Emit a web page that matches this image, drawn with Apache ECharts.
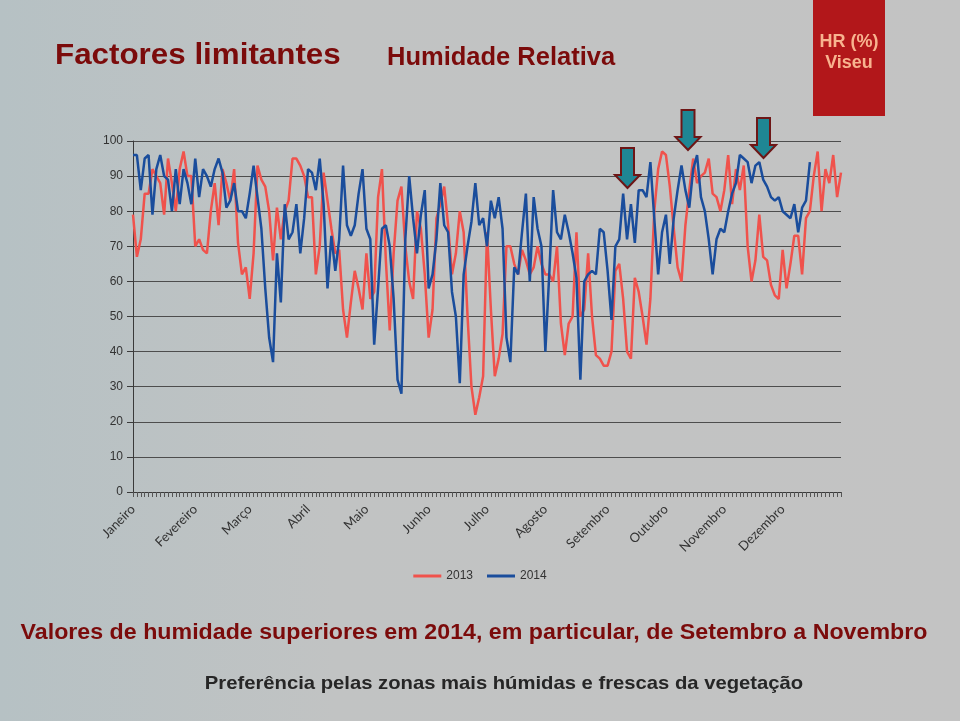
<!DOCTYPE html>
<html>
<head>
<meta charset="utf-8">
<script src="https://cdn.jsdelivr.net/npm/echarts@6/dist/echarts.min.js"></script>
<style>
html,body{margin:0;padding:0;width:960px;height:721px;overflow:hidden;}
#c{width:960px;height:721px;}
</style>
</head>
<body>
<div id="c"></div>
<script>
// Month names (tick labels) and their lengths
const months = ['Janeiro','Fevereiro','Março','Abril','Maio','Junho','Julho','Agosto','Setembro','Outubro','Novembro','Dezembro'];
const monthLengths = [31,28,31,30,31,30,31,31,30,31,30,31];
const yTicks = [0,10,20,30,40,50,60,70,80,90,100];
const seriesNames = ['2013','2014'];

// Relative humidity (%) read every second day, Viseu
const hr2013 = [
 79, 67, 72, 85, 85, 92, 90, 88, 79, 95,
 88, 80, 92, 97, 90, 90, 70, 72, 69, 68,
 80, 88, 76, 92, 88, 83, 92, 71, 62, 64,
 55, 68, 93, 89, 87, 80, 66, 81, 72, 80,
 83, 95, 95, 93, 90, 84, 84, 62, 70, 91,
 83, 75, 68, 69, 52, 44, 54, 63, 58, 52,
 68, 55, 57, 84, 92, 66, 46, 68, 83, 87,
 70, 60, 55, 80, 75, 62, 44, 52, 78, 82,
 87, 76, 62, 68, 80, 74, 50, 30, 22, 27,
 33, 74, 52, 33, 38, 45, 70, 70, 65, 62,
 69, 66, 62, 64, 70, 65, 62, 62, 60, 70,
 48, 39, 48, 50, 74, 50, 52, 68, 50, 39,
 38, 36, 36, 40, 63, 65, 55, 40, 38, 61,
 57, 50, 42, 55, 80, 92, 97, 96, 87, 75,
 64, 60, 76, 86, 95, 88, 90, 91, 95, 85,
 84, 80, 86, 96, 82, 92, 86, 93, 70, 60,
 66, 79, 67, 66, 59, 56, 55, 69, 58, 65,
 73, 73, 62, 78, 80, 90, 97, 80, 92, 88,
 96, 84, 91
];
const hr2014 = [
 96, 96, 86, 95, 96, 79, 92, 96, 90, 89,
 80, 92, 82, 92, 88, 82, 95, 84, 92, 90,
 87, 92, 95, 91, 81, 83, 88, 80, 80, 78,
 85, 93, 84, 75, 58, 44, 37, 68, 54, 82,
 72, 74, 82, 68, 78, 92, 91, 86, 95, 82,
 58, 73, 63, 72, 93, 76, 73, 76, 85, 92,
 75, 72, 42, 58, 75, 76, 70, 55, 32, 28,
 72, 90, 78, 68, 79, 86, 58, 62, 72, 88,
 76, 74, 57, 50, 31, 62, 70, 77, 88, 76,
 78, 70, 83, 78, 84, 75, 44, 37, 64, 62,
 74, 85, 60, 84, 75, 70, 40, 62, 86, 74,
 72, 79, 74, 68, 61, 32, 60, 62, 63, 62,
 75, 74, 63, 49, 70, 72, 85, 72, 82, 71,
 86, 86, 84, 94, 78, 62, 74, 79, 65, 78,
 86, 93, 86, 81, 92, 96, 84, 80, 72, 62,
 72, 75, 74, 80, 85, 88, 96, 95, 94, 88,
 93, 94, 89, 87, 84, 83, 84, 80, 79, 78,
 82, 74, 81, 83, 94, null, null, null, null, null,
 null, null, null
];

// categories: every second day of the year, "day/month"
const categories = [];
for (let d = 0; d < 365; d += 2) {
  let m = 0, rest = d;
  while (rest >= monthLengths[m]) { rest -= monthLengths[m]; m++; }
  categories.push((rest + 1) + '/' + (m + 1));
}

const chart = echarts.init(document.getElementById('c'), null, {renderer: 'canvas'});

function arrow(cx, top) {
  const sw = 6.5, hw = 12.5, sh = 27, hh = 13;
  return {
    type: 'polygon',
    shape: {points: [[cx - sw, top], [cx + sw, top], [cx + sw, top + sh], [cx + hw, top + sh],
                     [cx, top + sh + hh], [cx - hw, top + sh], [cx - sw, top + sh]]},
    style: {fill: '#1f8694', stroke: '#6e1616', lineWidth: 2},
    z: 100
  };
}

const option = {
  backgroundColor: {
    type: 'linear', x: 0, y: 0, x2: 1, y2: 0,
    colorStops: [{offset: 0, color: '#b6c1c4'}, {offset: 0.35, color: '#c1c3c3'}, {offset: 1, color: '#c3c3c3'}]
  },
  animation: false,
  grid: {left: 133, right: 119, top: 141, bottom: 229, containLabel: false},
  legend: {
    data: seriesNames,
    top: 565, left: 'center',
    itemWidth: 28, itemHeight: 3, icon: 'rect', itemGap: 14,
    textStyle: {color: '#333', fontSize: 12, fontFamily: 'Liberation Sans'}
  },
  xAxis: {
    type: 'category',
    data: categories,
    boundaryGap: false,
    axisLine: {lineStyle: {color: '#3a3a3a', width: 1}},
    axisTick: {show: true, interval: 0, length: 5, lineStyle: {color: '#555'}},
    axisLabel: {
      interval: function (idx, val) { return parseInt(val.split('/')[0], 10) <= 2; },
      formatter: function (val) { return months[parseInt(val.split('/')[1], 10) - 1]; },
      rotate: 45, margin: 15, color: '#333', fontSize: 13, fontFamily: 'Lato'
    },
    splitLine: {show: false}
  },
  yAxis: {
    type: 'value', min: yTicks[0], max: yTicks[yTicks.length - 1], interval: 10,
    axisLine: {show: true, lineStyle: {color: '#3a3a3a'}},
    axisTick: {show: true, length: 6, lineStyle: {color: '#3a3a3a'}},
    axisLabel: {color: '#333', fontSize: 12, fontFamily: 'Liberation Sans', margin: 10},
    splitLine: {lineStyle: {color: '#4d4d4d', width: 1}}
  },
  series: [
    {name: seriesNames[0], type: 'line', data: hr2013, showSymbol: false, symbol: 'none',
     lineStyle: {color: '#f0524c', width: 2.5}, itemStyle: {color: '#f0524c'}},
    {name: seriesNames[1], type: 'line', data: hr2014, showSymbol: false, symbol: 'none',
     lineStyle: {color: '#1a4d9c', width: 2.5}, itemStyle: {color: '#1a4d9c'}}
  ],
  graphic: [
    {type: 'text', x: 55, y: 56, scaleX: 1.045, style: {text: 'Factores limitantes', fill: '#7b0b0b', font: 'bold 30px "Liberation Sans", Arial', align: 'left', verticalAlign: 'middle'}},
    {type: 'text', x: 387, y: 57.5, style: {text: 'Humidade Relativa', fill: '#7b0b0b', font: 'bold 25.5px "Liberation Sans", Arial', align: 'left', verticalAlign: 'middle'}},
    {type: 'rect', shape: {x: 813, y: 0, width: 72, height: 116}, style: {fill: '#b2171a'}},
    {type: 'text', x: 849, y: 42, style: {text: 'HR (%)', fill: '#f8b38f', font: 'bold 18px "Liberation Sans", Arial', align: 'center', verticalAlign: 'middle'}},
    {type: 'text', x: 849, y: 63, style: {text: 'Viseu', fill: '#f8b38f', font: 'bold 18px "Liberation Sans", Arial', align: 'center', verticalAlign: 'middle'}},
    arrow(627.5, 148),
    arrow(688, 110),
    arrow(763.5, 118),
    {type: 'text', x: 474, y: 633, scaleX: 1.055, style: {text: 'Valores de humidade superiores em 2014, em particular, de Setembro a Novembro', fill: '#7b0b0b', font: 'bold 22px "Liberation Sans", Arial', align: 'center', verticalAlign: 'middle'}},
    {type: 'text', x: 504, y: 684, scaleX: 1.065, style: {text: 'Preferência pelas zonas mais húmidas e frescas da vegetação', fill: '#262626', font: 'bold 19px "Liberation Sans", Arial', align: 'center', verticalAlign: 'middle'}}
  ]
};
chart.setOption(option);
</script>
</body>
</html>
